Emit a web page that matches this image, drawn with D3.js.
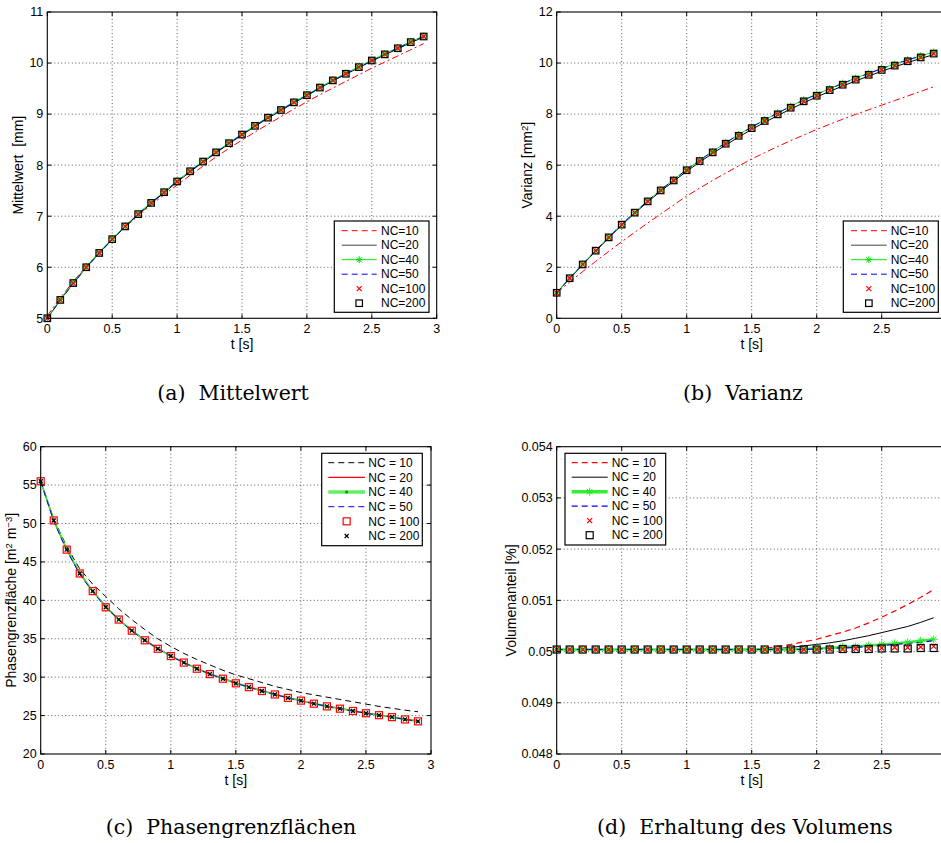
<!DOCTYPE html>
<html><head><meta charset="utf-8">
<script src="https://cdn.jsdelivr.net/npm/d3@7"></script>
<style>body{margin:0;background:#fff} svg{display:block} text{white-space:pre}</style>
</head><body>
<svg id="chart" width="941" height="843"></svg>
<script>
// ---------------- data ----------------
const t = [0,0.1,0.2,0.3,0.4,0.5,0.6,0.7,0.8,0.9,1.0,1.1,1.2,1.3,1.4,1.5,1.6,1.7,1.8,1.9,2.0,2.1,2.2,2.3,2.4,2.5,2.6,2.7,2.8,2.9];

const ncLabelsTop = ["NC=10","NC=20","NC=40","NC=50","NC=100","NC=200"];
const ncLabelsBottom = ["NC = 10","NC = 20","NC = 40","NC = 50","NC = 100","NC = 200"];
const captions = ["(a)  Mittelwert","(b)  Varianz","(c)  Phasengrenzflächen","(d)  Erhaltung des Volumens"];

const xTicks = [0,0.5,1,1.5,2,2.5,3];
const xTickLabels = ["0","0.5","1","1.5","2","2.5","3"];
const yTicksA = [5,6,7,8,9,10,11];
const yTicksB = [0,2,4,6,8,10,12];
const yTicksC = [20,25,30,35,40,45,50,55,60];
const yTicksD = [0.048,0.049,0.050,0.051,0.052,0.053,0.054];
const yTickLabelsD = ["0.048","0.049","0.05","0.051","0.052","0.053","0.054"];

// (a) Mittelwert [mm]
const mw10  = [5.05,5.40,5.72,6.02,6.29,6.55,6.79,7.01,7.22,7.42,7.61,7.80,7.98,8.16,8.33,8.49,8.65,8.80,8.95,9.10,9.24,9.38,9.51,9.64,9.77,9.90,10.02,10.14,10.26,10.38];
const mw20  = [5.00,5.36,5.69,6.00,6.28,6.55,6.80,7.03,7.25,7.46,7.67,7.87,8.06,8.24,8.42,8.59,8.76,8.92,9.07,9.22,9.36,9.51,9.65,9.78,9.91,10.04,10.16,10.28,10.40,10.51];
const mw40  = [5.00,5.37,5.70,6.01,6.29,6.56,6.81,7.05,7.27,7.48,7.69,7.89,8.08,8.26,8.44,8.61,8.78,8.94,9.09,9.24,9.38,9.53,9.67,9.80,9.93,10.06,10.18,10.30,10.42,10.53];
const mw50  = [5.00,5.35,5.68,5.99,6.27,6.54,6.80,7.04,7.26,7.47,7.68,7.88,8.07,8.25,8.43,8.60,8.77,8.93,9.08,9.23,9.37,9.51,9.65,9.79,9.92,10.04,10.17,10.29,10.41,10.52];
const mw100 = [5.00,5.36,5.69,6.00,6.28,6.55,6.80,7.04,7.26,7.47,7.68,7.88,8.07,8.25,8.43,8.60,8.77,8.93,9.08,9.23,9.37,9.52,9.66,9.79,9.92,10.05,10.17,10.29,10.41,10.52];
const mw200 = [5.00,5.36,5.69,6.00,6.28,6.55,6.80,7.04,7.26,7.47,7.68,7.88,8.07,8.25,8.43,8.60,8.77,8.93,9.08,9.23,9.37,9.52,9.66,9.79,9.92,10.05,10.17,10.29,10.41,10.52];

// (b) Varianz [mm^2]
const var10  = [1.00,1.42,1.83,2.23,2.62,3.00,3.37,3.73,4.09,4.44,4.79,5.10,5.40,5.69,5.97,6.24,6.49,6.73,6.96,7.18,7.40,7.60,7.80,7.99,8.17,8.35,8.53,8.71,8.89,9.07];
const var20  = [1.00,1.56,2.10,2.63,3.15,3.65,4.12,4.56,4.98,5.37,5.76,6.12,6.46,6.79,7.10,7.40,7.68,7.94,8.20,8.44,8.67,8.89,9.10,9.30,9.49,9.68,9.85,10.02,10.18,10.33];
const var40  = [1.00,1.58,2.12,2.66,3.18,3.68,4.15,4.60,5.03,5.43,5.83,6.19,6.54,6.88,7.20,7.50,7.78,8.05,8.31,8.56,8.78,9.00,9.21,9.41,9.60,9.79,9.96,10.13,10.28,10.43];
const var50  = [1.00,1.58,2.12,2.66,3.18,3.68,4.15,4.60,5.03,5.43,5.83,6.19,6.54,6.88,7.19,7.49,7.77,8.04,8.30,8.55,8.77,8.99,9.20,9.40,9.59,9.78,9.95,10.12,10.27,10.42];
const var100 = [1.00,1.57,2.11,2.65,3.17,3.67,4.14,4.58,5.01,5.40,5.80,6.16,6.50,6.84,7.15,7.45,7.73,7.99,8.25,8.50,8.72,8.94,9.15,9.35,9.54,9.73,9.90,10.07,10.22,10.37];
const var200 = [1.00,1.57,2.11,2.65,3.17,3.67,4.14,4.58,5.01,5.40,5.80,6.16,6.50,6.84,7.15,7.45,7.73,7.99,8.25,8.50,8.72,8.94,9.15,9.35,9.54,9.73,9.90,10.07,10.22,10.37];

// (c) Phasengrenzfläche [m^2 m^-3]
const pg10  = [55.5,50.6,47.0,44.1,42.1,40.5,38.9,37.5,36.2,35.0,34.0,33.1,32.3,31.6,30.9,30.3,29.8,29.3,28.8,28.4,28.0,27.7,27.4,27.1,26.8,26.5,26.2,25.95,25.7,25.5];
const pg20  = [55.5,50.4,46.6,43.5,41.2,39.2,37.5,36.1,34.85,33.75,32.8,31.95,31.15,30.45,29.85,29.25,28.75,28.25,27.8,27.35,26.95,26.6,26.25,25.95,25.65,25.35,25.1,24.85,24.55,24.3];
const pg40  = [55.5,50.5,46.7,43.6,41.2,39.2,37.5,36.1,34.8,33.7,32.75,31.9,31.1,30.4,29.8,29.2,28.7,28.2,27.75,27.3,26.95,26.55,26.2,25.9,25.6,25.3,25.05,24.8,24.5,24.25];
const pg50  = [55.5,50.3,46.5,43.4,41.1,39.1,37.5,36.0,34.8,33.7,32.7,31.9,31.1,30.4,29.8,29.2,28.7,28.2,27.75,27.3,26.9,26.55,26.2,25.9,25.6,25.3,25.05,24.8,24.5,24.25];
const pg100 = [55.5,50.4,46.6,43.5,41.2,39.1,37.5,36.05,34.8,33.7,32.75,31.9,31.1,30.4,29.8,29.2,28.7,28.2,27.75,27.3,26.95,26.55,26.2,25.9,25.6,25.3,25.05,24.8,24.5,24.25];
const pg200 = [55.5,50.4,46.6,43.5,41.2,39.1,37.5,36.05,34.8,33.7,32.75,31.9,31.1,30.4,29.8,29.2,28.7,28.2,27.75,27.3,26.95,26.55,26.2,25.9,25.6,25.3,25.05,24.8,24.5,24.25];

// (d) Volumenanteil [%]
const vol10  = [0.05004,0.05004,0.05004,0.05004,0.05004,0.05004,0.05004,0.05004,0.05004,0.05004,0.05004,0.05004,0.05004,0.05004,0.05004,0.05004,0.05006,0.05010,0.05014,0.05019,0.05024,0.05031,0.05038,0.05046,0.05056,0.05067,0.05079,0.05092,0.05106,0.05121];
const vol20  = [0.05004,0.05004,0.05004,0.05004,0.05004,0.05004,0.05004,0.05004,0.05004,0.05004,0.05004,0.05004,0.05004,0.05004,0.05004,0.05004,0.05004,0.05006,0.05008,0.05011,0.05014,0.05017,0.05021,0.05026,0.05031,0.05037,0.05043,0.05049,0.05057,0.05066];
const vol40  = [0.05004,0.05004,0.05004,0.05004,0.05004,0.05004,0.05004,0.05004,0.05004,0.05004,0.05004,0.05004,0.05004,0.05004,0.05004,0.05004,0.05004,0.05004,0.05004,0.05005,0.05006,0.05007,0.05009,0.05010,0.05012,0.05014,0.05016,0.05018,0.05021,0.05024];
const vol50  = [0.05004,0.05004,0.05004,0.05004,0.05004,0.05004,0.05004,0.05004,0.05004,0.05004,0.05004,0.05004,0.05004,0.05004,0.05004,0.05004,0.05004,0.05004,0.05004,0.05004,0.05005,0.05006,0.05007,0.05008,0.05010,0.05012,0.05014,0.05016,0.05018,0.05021];
const vol100 = [0.05004,0.05004,0.05004,0.05004,0.05004,0.05004,0.05004,0.05004,0.05004,0.05004,0.05004,0.05004,0.05004,0.05004,0.05004,0.05004,0.05004,0.05004,0.05004,0.05004,0.05004,0.05005,0.05005,0.05006,0.05006,0.05007,0.05008,0.05008,0.05009,0.05010];
const vol200 = [0.05004,0.05004,0.05004,0.05004,0.05004,0.05004,0.05004,0.05004,0.05004,0.05004,0.05004,0.05004,0.05004,0.05004,0.05004,0.05004,0.05004,0.05004,0.05004,0.05004,0.05004,0.05004,0.05005,0.05005,0.05005,0.05006,0.05006,0.05006,0.05007,0.05007];

// ---------------- styles ----------------
const FONT = "'Liberation Sans', Arial, Helvetica, sans-serif";
const SERIF = "'DejaVu Serif', serif";
const W = 941;

const stylesTop = [
  {color:"#ff0000", width:1, dash:"7,3,2,3", legDash:"6,4"},
  {color:"#000000", width:1, legColor:"#444"},
  {color:"#00ee00", width:1, marker:"star", mColor:"#00dd00"},
  {color:"#0000ff", width:1, dash:"6,4"},
  {marker:"x", mColor:"#ff0000"},
  {marker:"square", mColor:"#000000"}
];
const stylesC = [
  {color:"#000000", width:1, dash:"6,4"},
  {color:"#ff0000", width:1.2},
  {color:"#33ee33", width:1.6, legWidth:3.5, legColor:"#66ee66", marker:"dot", mColor:"#009900"},
  {color:"#0000ff", width:1, dash:"6,4"},
  {marker:"square", mColor:"#ff0000", mSize:7},
  {marker:"x", mColor:"#000000", mSize:4}
];
const stylesD = [
  {color:"#ff0000", width:1.2, dash:"6,4"},
  {color:"#000000", width:1},
  {color:"#33ee33", width:2.5, legWidth:3.5, marker:"star", mColor:"#22ee22", mSize:8},
  {color:"#0000ff", width:1.2, dash:"6,4"},
  {marker:"x", mColor:"#ff0000"},
  {marker:"square", mColor:"#000000", mSize:7}
];

const panels = [
  {x0:47.3, x1:436.7, y0:12, y1:318.3, yDomain:[5,11], yTicks:yTicksA, yTickLabels:yTicksA.map(String),
   series:[mw10,mw20,mw40,mw50,mw100,mw200], styles:stylesTop, labels:ncLabelsTop,
   ylabel:[["Mittelwert  [mm]"]], ylx:18, caption:captions[0], capX:233, capY:400,
   leg:{x0:334.3, x1:429, y0:221, y1:312.3, first:230.7, step:14.5, lx0:341.7, lx1:376.7, tx:381}},
  {x0:556.7, x1:946.7, y0:12, y1:318.3, yDomain:[0,12], yTicks:yTicksB, yTickLabels:yTicksB.map(String),
   series:[var10,var20,var40,var50,var100,var200], styles:stylesTop, labels:ncLabelsTop,
   ylabel:[["Varianz [mm"],["2","sup"],["]"]], ylx:527, caption:captions[1], capX:743, capY:400,
   leg:{x0:843.3, x1:938.3, y0:221, y1:312.3, first:230.7, step:14.5, lx0:851, lx1:886.7, tx:890.7}},
  {x0:40.7, x1:431, y0:446.7, y1:754, yDomain:[20,60], yTicks:yTicksC, yTickLabels:yTicksC.map(String),
   series:[pg10,pg20,pg40,pg50,pg100,pg200], styles:stylesC, labels:ncLabelsBottom,
   ylabel:[["Phasengrenzfläche [m"],["2","sup"],[" m"],["−3","sup"],["]"]], ylx:11, caption:captions[2], capX:231, capY:834,
   leg:{x0:321.7, x1:422.3, y0:453.3, y1:545.7, first:462.7, step:14.66, lx0:328.3, lx1:365, tx:368.3}},
  {x0:556.7, x1:946.7, y0:446.7, y1:754, yDomain:[0.048,0.054], yTicks:yTicksD, yTickLabels:yTickLabelsD,
   series:[vol10,vol20,vol40,vol50,vol100,vol200], styles:stylesD, labels:ncLabelsBottom,
   ylabel:[["Volumenanteil [%]"]], ylx:511, caption:captions[3], capX:745, capY:834,
   leg:{x0:565, x1:665.7, y0:453.3, y1:545, first:462.7, step:14.5, lx0:571.7, lx1:607.7, tx:611.7}}
];

const svg = d3.select("#chart");

function drawMarker(g, type, x, y, color, size){
  if(type==="square"){
    const s = size||6.5;
    g.append("rect").attr("x",x-s/2).attr("y",y-s/2).attr("width",s).attr("height",s)
      .attr("fill","none").attr("stroke",color).attr("stroke-width",1.2);
  } else if(type==="x"){
    const s = (size||5)/2;
    g.append("path").attr("d",`M${x-s},${y-s}L${x+s},${y+s}M${x-s},${y+s}L${x+s},${y-s}`)
      .attr("stroke",color).attr("stroke-width",1.2).attr("fill","none");
  } else if(type==="star"){
    const s = (size||7)/2, d = s*0.7;
    g.append("path").attr("d",`M${x-s},${y}L${x+s},${y}M${x},${y-s}L${x},${y+s}M${x-d},${y-d}L${x+d},${y+d}M${x-d},${y+d}L${x+d},${y-d}`)
      .attr("stroke",color).attr("stroke-width",1).attr("fill","none");
  } else if(type==="dot"){
    g.append("circle").attr("cx",x).attr("cy",y).attr("r",(size||3)/2).attr("fill",color);
  }
}

panels.forEach(p => {
  const x = d3.scaleLinear().domain([0,3]).range([p.x0,p.x1]);
  const y = d3.scaleLinear().domain(p.yDomain).range([p.y1,p.y0]);
  const g = svg.append("g");

  // grid
  const grid = g.append("g").attr("stroke","#333").attr("stroke-width",0.8).attr("stroke-dasharray","1,2.5");
  xTicks.slice(1,-1).forEach(v => grid.append("line").attr("x1",x(v)).attr("x2",x(v)).attr("y1",p.y0).attr("y2",p.y1));
  p.yTicks.slice(1,-1).forEach(v => grid.append("line").attr("x1",p.x0).attr("x2",p.x1).attr("y1",y(v)).attr("y2",y(v)));

  // series lines
  const line = d3.line().x((d,i)=>x(t[i])).y(d=>y(d));
  p.series.forEach((s,k) => {
    const st = p.styles[k];
    if(st.color){
      g.append("path").attr("d",line(s)).attr("fill","none").attr("stroke",st.color)
        .attr("stroke-width",st.width).attr("stroke-dasharray",st.dash||null);
    }
  });
  p.series.forEach((s,k) => {
    const st = p.styles[k];
    if(st.marker){
      const mg = g.append("g");
      s.forEach((v,i) => drawMarker(mg, st.marker, x(t[i]), y(v), st.mColor, st.mSize));
    }
  });

  // frame
  g.append("rect").attr("x",p.x0).attr("y",p.y0).attr("width",p.x1-p.x0).attr("height",p.y1-p.y0)
    .attr("fill","none").attr("stroke","#000").attr("stroke-width",1.1);
  const tl = 4;
  const tk = g.append("g").attr("stroke","#000").attr("stroke-width",1);
  xTicks.forEach(v => {
    tk.append("line").attr("x1",x(v)).attr("x2",x(v)).attr("y1",p.y1).attr("y2",p.y1-tl);
    tk.append("line").attr("x1",x(v)).attr("x2",x(v)).attr("y1",p.y0).attr("y2",p.y0+tl);
  });
  p.yTicks.forEach(v => {
    tk.append("line").attr("x1",p.x0).attr("x2",p.x0+tl).attr("y1",y(v)).attr("y2",y(v));
    tk.append("line").attr("x1",p.x1).attr("x2",p.x1-tl).attr("y1",y(v)).attr("y2",y(v));
  });
  // tick labels (skip those falling outside the page, as in the reference)
  const lab = g.append("g").attr("font-family",FONT).attr("font-size",12.5).attr("fill","#000");
  xTicks.forEach((v,i) => { if(x(v) < W-4) lab.append("text").attr("x",x(v)).attr("y",p.y1+15).attr("text-anchor","middle").text(xTickLabels[i]); });
  p.yTicks.forEach((v,i) => lab.append("text").attr("x",p.x0-4).attr("y",y(v)).attr("dy","0.35em").attr("text-anchor","end").text(p.yTickLabels[i]));

  // axis labels
  g.append("text").attr("x",(p.x0+p.x1)/2).attr("y",p.y1+31).attr("text-anchor","middle")
    .attr("font-family",FONT).attr("font-size",14).text("t [s]");
  const yl = g.append("text").attr("transform",`translate(${p.ylx},${(p.y0+p.y1)/2}) rotate(-90)`)
    .attr("text-anchor","middle").attr("dy","0.35em").attr("font-family",FONT).attr("font-size",14);
  p.ylabel.forEach(part => {
    if(part[1]==="sup") yl.append("tspan").attr("font-size",9.5).attr("baseline-shift","45%").text(part[0]);
    else yl.append("tspan").text(part[0]);
  });

  // legend
  const L = p.leg;
  const lg = g.append("g");
  lg.append("rect").attr("x",L.x0).attr("y",L.y0).attr("width",L.x1-L.x0).attr("height",L.y1-L.y0)
    .attr("fill","#fff").attr("stroke","#000").attr("stroke-width",1.2);
  p.labels.forEach((lbl,k) => {
    const st = p.styles[k];
    const yy = L.first + k*L.step;
    if(st.color){
      lg.append("line").attr("x1",L.lx0).attr("x2",L.lx1).attr("y1",yy).attr("y2",yy)
        .attr("stroke",st.legColor||st.color).attr("stroke-width",st.legWidth||st.width)
        .attr("stroke-dasharray",st.legDash||st.dash||null);
    }
    if(st.marker) drawMarker(lg, st.marker, (L.lx0+L.lx1)/2, yy, st.mColor, st.mSize);
    lg.append("text").attr("x",L.tx).attr("y",yy).attr("dy","0.35em").attr("font-family",FONT)
      .attr("font-size",12).text(lbl);
  });

  // caption
  g.append("text").attr("x",p.capX).attr("y",p.capY).attr("text-anchor","middle")
    .attr("font-family",SERIF).attr("font-size",20.5).text(p.caption);
});
</script>
</body></html>
